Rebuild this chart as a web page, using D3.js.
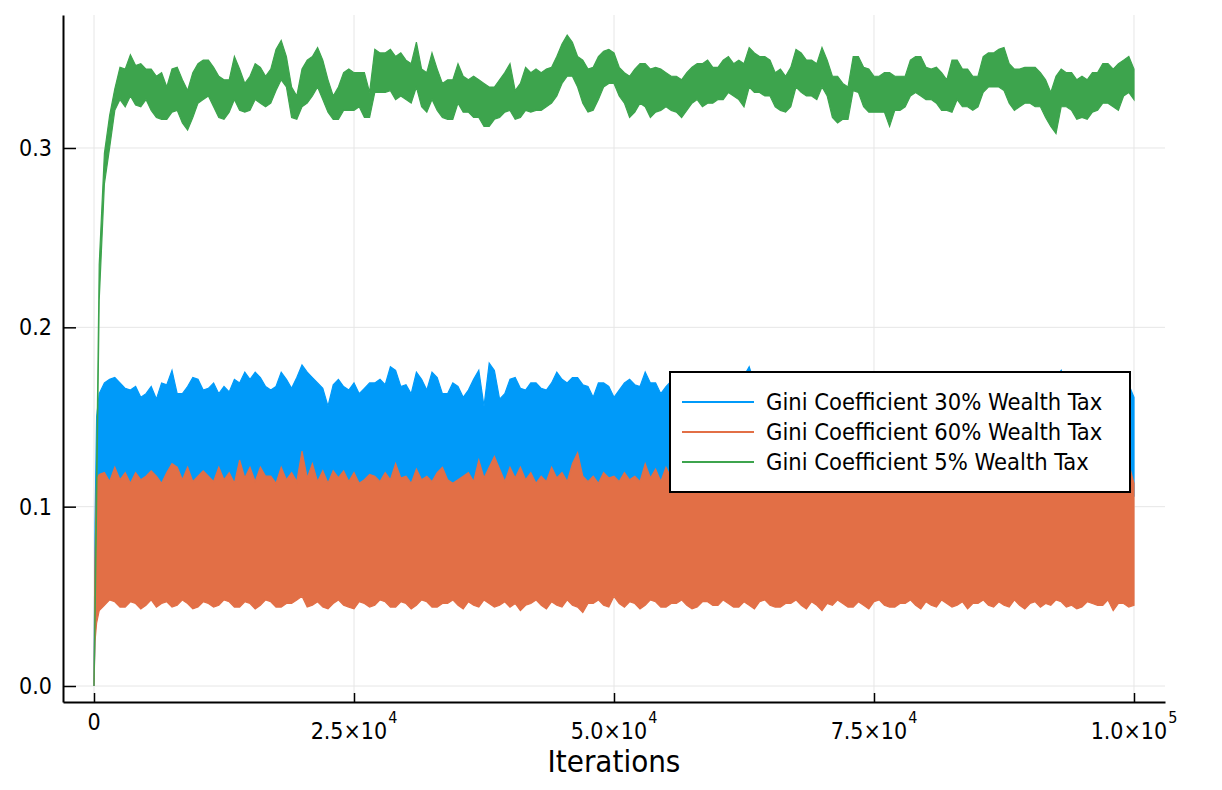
<!DOCTYPE html>
<html>
<head>
<meta charset="utf-8">
<script src="https://cdn.jsdelivr.net/npm/d3@7"></script>
<style>
  body { margin: 0; background: #fff; }
  text { font-family: "DejaVu Sans Condensed", "Liberation Sans", Arial, sans-serif; }
</style>
</head>
<body>
<div id="chart-area"></div>
<script>
var iters = [0, 100, 250, 500,
  1000, 1500, 2000, 2500, 3000, 3500, 4000, 4500, 5000, 5500, 6000, 6500, 7000, 7500, 8000, 8500, 9000, 9500, 10000, 10500,
  11000, 11500, 12000, 12500, 13000, 13500, 14000, 14500, 15000, 15500, 16000, 16500, 17000, 17500, 18000, 18500, 19000, 19500, 20000, 20500,
  21000, 21500, 22000, 22500, 23000, 23500, 24000, 24500, 25000, 25500, 26000, 26500, 27000, 27500, 28000, 28500, 29000, 29500, 30000, 30500,
  31000, 31500, 32000, 32500, 33000, 33500, 34000, 34500, 35000, 35500, 36000, 36500, 37000, 37500, 38000, 38500, 39000, 39500, 40000, 40500,
  41000, 41500, 42000, 42500, 43000, 43500, 44000, 44500, 45000, 45500, 46000, 46500, 47000, 47500, 48000, 48500, 49000, 49500, 50000, 50500,
  51000, 51500, 52000, 52500, 53000, 53500, 54000, 54500, 55000, 55500, 56000, 56500, 57000, 57500, 58000, 58500, 59000, 59500, 60000, 60500,
  61000, 61500, 62000, 62500, 63000, 63500, 64000, 64500, 65000, 65500, 66000, 66500, 67000, 67500, 68000, 68500, 69000, 69500, 70000, 70500,
  71000, 71500, 72000, 72500, 73000, 73500, 74000, 74500, 75000, 75500, 76000, 76500, 77000, 77500, 78000, 78500, 79000, 79500, 80000, 80500,
  81000, 81500, 82000, 82500, 83000, 83500, 84000, 84500, 85000, 85500, 86000, 86500, 87000, 87500, 88000, 88500, 89000, 89500, 90000, 90500,
  91000, 91500, 92000, 92500, 93000, 93500, 94000, 94500, 95000, 95500, 96000, 96500, 97000, 97500, 98000, 98500, 99000, 99500, 100000];

// each noisy series is kept as the upper / lower edge of its band
var tax30Hi = [0.003, 0.09, 0.15, 0.163,
  0.169, 0.171, 0.172, 0.169, 0.166, 0.165, 0.167, 0.161, 0.163, 0.167, 0.160, 0.169, 0.168, 0.176, 0.163, 0.163, 0.167, 0.172, 0.171, 0.165,
  0.166, 0.169, 0.163, 0.167, 0.164, 0.171, 0.169, 0.175, 0.171, 0.175, 0.172, 0.167, 0.165, 0.167, 0.175, 0.171, 0.166, 0.172, 0.179, 0.175,
  0.172, 0.169, 0.166, 0.156, 0.168, 0.171, 0.167, 0.165, 0.169, 0.163, 0.166, 0.169, 0.169, 0.171, 0.168, 0.178, 0.176, 0.167, 0.168, 0.163,
  0.175, 0.171, 0.165, 0.175, 0.172, 0.163, 0.163, 0.169, 0.167, 0.161, 0.165, 0.171, 0.176, 0.156, 0.180, 0.176, 0.160, 0.163, 0.171, 0.172,
  0.166, 0.165, 0.169, 0.169, 0.166, 0.165, 0.169, 0.175, 0.171, 0.169, 0.172, 0.172, 0.168, 0.167, 0.161, 0.169, 0.169, 0.167, 0.161, 0.165,
  0.169, 0.171, 0.168, 0.167, 0.175, 0.169, 0.169, 0.163, 0.167, 0.170, 0.168, 0.164, 0.165, 0.169, 0.170, 0.166, 0.166, 0.171, 0.169, 0.165,
  0.164, 0.168, 0.170, 0.173, 0.178, 0.169, 0.167, 0.171, 0.169, 0.164, 0.165, 0.170, 0.171, 0.166, 0.166, 0.169, 0.168, 0.172, 0.172, 0.166,
  0.165, 0.169, 0.169, 0.165, 0.167, 0.171, 0.170, 0.166, 0.164, 0.169, 0.168, 0.172, 0.171, 0.166, 0.166, 0.170, 0.169, 0.165, 0.165, 0.171,
  0.170, 0.166, 0.167, 0.169, 0.172, 0.166, 0.165, 0.170, 0.168, 0.172, 0.170, 0.165, 0.166, 0.169, 0.169, 0.171, 0.164, 0.168, 0.171, 0.166,
  0.167, 0.170, 0.169, 0.172, 0.176, 0.167, 0.166, 0.169, 0.170, 0.165, 0.165, 0.170, 0.169, 0.166, 0.167, 0.171, 0.170, 0.168, 0.161];
var tax30Lo = [0.0, 0.03, 0.05, 0.09,
  0.106, 0.104, 0.108, 0.105, 0.107, 0.104, 0.106, 0.108, 0.105, 0.104, 0.107, 0.105, 0.106, 0.104, 0.108, 0.105, 0.106, 0.104, 0.107, 0.105,
  0.106, 0.108, 0.104, 0.106, 0.105, 0.107, 0.104, 0.106, 0.105, 0.108, 0.104, 0.106, 0.107, 0.105, 0.104, 0.106, 0.108, 0.105, 0.106, 0.104,
  0.107, 0.105, 0.106, 0.104, 0.108, 0.105, 0.106, 0.107, 0.104, 0.106, 0.105, 0.108, 0.104, 0.106, 0.105, 0.107, 0.104, 0.106, 0.105, 0.108,
  0.104, 0.106, 0.107, 0.105, 0.104, 0.106, 0.108, 0.105, 0.106, 0.104, 0.107, 0.105, 0.106, 0.104, 0.108, 0.105, 0.106, 0.107, 0.104, 0.106,
  0.105, 0.108, 0.104, 0.106, 0.105, 0.107, 0.104, 0.106, 0.105, 0.108, 0.104, 0.106, 0.107, 0.105, 0.104, 0.106, 0.108, 0.105, 0.106, 0.107,
  0.106, 0.104, 0.108, 0.105, 0.107, 0.104, 0.106, 0.108, 0.105, 0.104, 0.107, 0.105, 0.106, 0.104, 0.108, 0.105, 0.106, 0.104, 0.107, 0.105,
  0.106, 0.108, 0.104, 0.106, 0.105, 0.107, 0.104, 0.106, 0.105, 0.108, 0.104, 0.106, 0.107, 0.105, 0.104, 0.106, 0.108, 0.105, 0.106, 0.104,
  0.107, 0.105, 0.106, 0.104, 0.108, 0.105, 0.106, 0.107, 0.104, 0.106, 0.105, 0.108, 0.104, 0.106, 0.105, 0.107, 0.104, 0.106, 0.105, 0.108,
  0.105, 0.107, 0.104, 0.106, 0.108, 0.105, 0.104, 0.106, 0.107, 0.105, 0.106, 0.104, 0.108, 0.105, 0.106, 0.107, 0.104, 0.106, 0.105, 0.108,
  0.104, 0.106, 0.107, 0.105, 0.104, 0.106, 0.108, 0.105, 0.106, 0.104, 0.107, 0.105, 0.106, 0.104, 0.108, 0.105, 0.106, 0.107, 0.106];

var tax60Hi = [0.002, 0.07, 0.115, 0.118,
  0.119, 0.114, 0.122, 0.115, 0.119, 0.113, 0.119, 0.115, 0.117, 0.120, 0.117, 0.113, 0.119, 0.124, 0.122, 0.115, 0.122, 0.114, 0.117, 0.120,
  0.117, 0.114, 0.122, 0.115, 0.119, 0.113, 0.126, 0.116, 0.122, 0.114, 0.122, 0.117, 0.117, 0.113, 0.122, 0.115, 0.119, 0.114, 0.131, 0.116,
  0.124, 0.114, 0.120, 0.113, 0.120, 0.116, 0.120, 0.114, 0.119, 0.113, 0.115, 0.118, 0.117, 0.114, 0.119, 0.115, 0.124, 0.116, 0.117, 0.113,
  0.121, 0.115, 0.117, 0.114, 0.119, 0.122, 0.115, 0.113, 0.115, 0.117, 0.119, 0.114, 0.126, 0.116, 0.122, 0.128, 0.121, 0.114, 0.122, 0.116,
  0.122, 0.115, 0.119, 0.113, 0.117, 0.114, 0.122, 0.116, 0.119, 0.114, 0.124, 0.130, 0.117, 0.114, 0.117, 0.113, 0.119, 0.116, 0.117, 0.114,
  0.119, 0.115, 0.117, 0.114, 0.124, 0.116, 0.121, 0.114, 0.122, 0.116, 0.118, 0.114, 0.121, 0.115, 0.116, 0.113, 0.120, 0.115, 0.119, 0.114,
  0.122, 0.115, 0.117, 0.113, 0.120, 0.115, 0.118, 0.114, 0.121, 0.116, 0.116, 0.113, 0.119, 0.115, 0.122, 0.114, 0.117, 0.113, 0.120, 0.115,
  0.118, 0.114, 0.121, 0.116, 0.116, 0.113, 0.119, 0.115, 0.123, 0.114, 0.117, 0.113, 0.120, 0.115, 0.118, 0.114, 0.121, 0.116, 0.116, 0.113,
  0.119, 0.115, 0.122, 0.114, 0.117, 0.113, 0.120, 0.115, 0.118, 0.114, 0.121, 0.116, 0.116, 0.113, 0.119, 0.115, 0.122, 0.114, 0.117, 0.113,
  0.120, 0.115, 0.118, 0.114, 0.121, 0.116, 0.116, 0.113, 0.119, 0.115, 0.122, 0.114, 0.117, 0.113, 0.120, 0.115, 0.122, 0.124, 0.113];
var tax60Lo = [0.0, 0.025, 0.035, 0.042,
  0.045, 0.048, 0.047, 0.044, 0.044, 0.047, 0.046, 0.043, 0.045, 0.048, 0.044, 0.046, 0.047, 0.044, 0.045, 0.048, 0.046, 0.043, 0.044, 0.047,
  0.046, 0.044, 0.045, 0.048, 0.047, 0.044, 0.044, 0.047, 0.046, 0.043, 0.045, 0.048, 0.047, 0.044, 0.044, 0.046, 0.046, 0.048, 0.050, 0.044,
  0.045, 0.047, 0.044, 0.043, 0.046, 0.048, 0.045, 0.044, 0.043, 0.047, 0.046, 0.044, 0.045, 0.048, 0.047, 0.044, 0.044, 0.047, 0.046, 0.043,
  0.045, 0.048, 0.047, 0.044, 0.044, 0.046, 0.046, 0.048, 0.045, 0.043, 0.047, 0.045, 0.044, 0.048, 0.046, 0.044, 0.045, 0.047, 0.044, 0.046,
  0.042, 0.045, 0.046, 0.048, 0.045, 0.043, 0.047, 0.045, 0.044, 0.048, 0.045, 0.044, 0.041, 0.046, 0.046, 0.048, 0.045, 0.044, 0.050, 0.046,
  0.044, 0.047, 0.046, 0.043, 0.045, 0.048, 0.047, 0.044, 0.044, 0.046, 0.046, 0.048, 0.045, 0.043, 0.044, 0.047, 0.047, 0.045, 0.045, 0.048,
  0.046, 0.044, 0.044, 0.047, 0.045, 0.043, 0.047, 0.048, 0.045, 0.044, 0.044, 0.046, 0.046, 0.048, 0.045, 0.043, 0.047, 0.045, 0.042, 0.046,
  0.045, 0.048, 0.046, 0.044, 0.044, 0.047, 0.045, 0.043, 0.047, 0.048, 0.045, 0.044, 0.044, 0.046, 0.046, 0.048, 0.045, 0.043, 0.047, 0.045,
  0.044, 0.048, 0.046, 0.044, 0.045, 0.047, 0.043, 0.046, 0.046, 0.048, 0.045, 0.044, 0.047, 0.045, 0.044, 0.048, 0.045, 0.043, 0.046, 0.047,
  0.044, 0.046, 0.045, 0.048, 0.047, 0.044, 0.045, 0.043, 0.044, 0.047, 0.046, 0.045, 0.045, 0.048, 0.042, 0.046, 0.046, 0.044, 0.045];

var tax5Hi = [0.002, 0.045, 0.12, 0.235,
  0.297, 0.318,
  0.333, 0.345, 0.344, 0.352, 0.346, 0.347, 0.344, 0.344, 0.340, 0.342, 0.334, 0.344, 0.345, 0.338, 0.332, 0.342, 0.347, 0.349,
  0.349, 0.345, 0.340, 0.338, 0.338, 0.351, 0.344, 0.336, 0.340, 0.347, 0.345, 0.340, 0.344, 0.355, 0.360, 0.351, 0.334, 0.329, 0.344, 0.349,
  0.351, 0.356, 0.349, 0.338, 0.329, 0.334, 0.342, 0.344, 0.342, 0.342, 0.342, 0.331, 0.355, 0.353, 0.353, 0.355, 0.351, 0.353, 0.349, 0.347,
  0.359, 0.344, 0.342, 0.353, 0.344, 0.336, 0.338, 0.338, 0.347, 0.340, 0.338, 0.340, 0.338, 0.336, 0.334, 0.334, 0.338, 0.342, 0.347, 0.332,
  0.336, 0.345, 0.342, 0.344, 0.342, 0.344, 0.345, 0.351, 0.358, 0.363, 0.359, 0.351, 0.349, 0.344, 0.345, 0.351, 0.354, 0.355, 0.353, 0.345,
  0.342, 0.340, 0.344, 0.347, 0.347, 0.344, 0.345, 0.344, 0.342, 0.340, 0.340, 0.338, 0.342, 0.345, 0.347, 0.347, 0.349, 0.345, 0.345, 0.349,
  0.351, 0.347, 0.349, 0.347, 0.356, 0.353, 0.351, 0.351, 0.349, 0.342, 0.344, 0.340, 0.345, 0.355, 0.353, 0.349, 0.349, 0.347, 0.356, 0.349,
  0.340, 0.340, 0.336, 0.334, 0.351, 0.351, 0.345, 0.344, 0.340, 0.340, 0.342, 0.342, 0.340, 0.340, 0.340, 0.349, 0.351, 0.351, 0.345, 0.344,
  0.345, 0.342, 0.338, 0.349, 0.349, 0.344, 0.344, 0.340, 0.340, 0.351, 0.353, 0.353, 0.355, 0.356, 0.347, 0.344, 0.344, 0.345, 0.345, 0.345,
  0.342, 0.338, 0.331, 0.340, 0.344, 0.342, 0.342, 0.338, 0.340, 0.338, 0.342, 0.342, 0.347, 0.347, 0.344, 0.347, 0.349, 0.351, 0.344];
var tax5Lo = [0.0, 0.035, 0.10, 0.215,
  0.280, 0.300,
  0.321, 0.327, 0.323, 0.329, 0.324, 0.323, 0.327, 0.321, 0.317, 0.316, 0.316, 0.320, 0.321, 0.314, 0.310, 0.317, 0.325, 0.327,
  0.329, 0.323, 0.317, 0.316, 0.320, 0.327, 0.321, 0.320, 0.321, 0.327, 0.325, 0.323, 0.325, 0.332, 0.338, 0.334, 0.317, 0.316, 0.323, 0.325,
  0.329, 0.334, 0.327, 0.320, 0.316, 0.316, 0.321, 0.321, 0.321, 0.323, 0.317, 0.317, 0.331, 0.331, 0.331, 0.332, 0.327, 0.329, 0.327, 0.325,
  0.334, 0.323, 0.320, 0.327, 0.321, 0.317, 0.316, 0.316, 0.325, 0.320, 0.320, 0.317, 0.317, 0.312, 0.312, 0.316, 0.317, 0.320, 0.321, 0.316,
  0.317, 0.321, 0.320, 0.321, 0.321, 0.323, 0.325, 0.329, 0.336, 0.340, 0.340, 0.334, 0.325, 0.320, 0.321, 0.327, 0.334, 0.336, 0.336, 0.329,
  0.325, 0.317, 0.320, 0.325, 0.323, 0.317, 0.320, 0.321, 0.323, 0.321, 0.320, 0.317, 0.321, 0.325, 0.327, 0.323, 0.325, 0.325, 0.327, 0.327,
  0.331, 0.329, 0.327, 0.323, 0.334, 0.331, 0.331, 0.329, 0.329, 0.323, 0.321, 0.320, 0.323, 0.334, 0.331, 0.329, 0.329, 0.327, 0.334, 0.329,
  0.317, 0.314, 0.316, 0.316, 0.332, 0.331, 0.323, 0.320, 0.320, 0.320, 0.320, 0.312, 0.321, 0.321, 0.323, 0.329, 0.331, 0.329, 0.327, 0.327,
  0.325, 0.321, 0.321, 0.320, 0.327, 0.323, 0.323, 0.321, 0.323, 0.331, 0.334, 0.334, 0.334, 0.332, 0.325, 0.321, 0.323, 0.325, 0.325, 0.323,
  0.323, 0.317, 0.312, 0.308, 0.323, 0.323, 0.321, 0.316, 0.317, 0.316, 0.320, 0.321, 0.325, 0.325, 0.323, 0.321, 0.329, 0.331, 0.327];

var seriesNames = ["Gini Coefficient 30% Wealth Tax", "Gini Coefficient 60% Wealth Tax", "Gini Coefficient 5% Wealth Tax"];
var seriesColors = ["#009af9", "#e26f46", "#3da44d"];

var xTicks = [0, 25000, 50000, 75000, 100000];
var xTickMant = ["0", "2.5×10", "5.0×10", "7.5×10", "1.0×10"];
var xTickExp = ["", "4", "4", "4", "5"];
var yTicks = [0.0, 0.1, 0.2, 0.3];

var width = 1222, height = 790;
var plotLeft = 63, plotRight = 1165, plotTop = 15, plotBottom = 702;

const svg = d3.select("#chart-area")
    .append('svg')
    .attr('width', width)
    .attr('height', height);

const xScale = d3.scaleLinear()
    .domain([-2981, 102981])
    .range([plotLeft, plotRight]);

const yScale = d3.scaleLinear()
    .domain([-0.00892, 0.37416])
    .range([plotBottom, plotTop]);

// grid
svg.append('g').selectAll('line')
    .data(xTicks)
    .enter()
    .append('line')
    .attr('x1', function(d) { return xScale(d); })
    .attr('x2', function(d) { return xScale(d); })
    .attr('y1', plotTop)
    .attr('y2', plotBottom)
    .attr('stroke', '#e6e6e6')
    .attr('stroke-width', 1);

svg.append('g').selectAll('line')
    .data(yTicks)
    .enter()
    .append('line')
    .attr('x1', plotLeft)
    .attr('x2', plotRight)
    .attr('y1', function(d) { return yScale(d); })
    .attr('y2', function(d) { return yScale(d); })
    .attr('stroke', '#e6e6e6')
    .attr('stroke-width', 1);

// series bands
var bands = [[tax30Lo, tax30Hi], [tax60Lo, tax60Hi], [tax5Lo, tax5Hi]];

var area = function(lo, hi) {
    return d3.area()
        .x(function(i) { return xScale(iters[i]); })
        .y0(function(i) { return yScale(lo[i]); })
        .y1(function(i) { return yScale(hi[i]); });
};

bands.forEach(function(b, s) {
    svg.append('path')
        .datum(d3.range(iters.length))
        .attr('d', area(b[0], b[1]))
        .attr('fill', seriesColors[s])
        .attr('stroke', seriesColors[s])
        .attr('stroke-width', 1.2)
        .attr('stroke-linejoin', 'miter');
});

// axes
const xAxisCall = d3.axisBottom(xScale)
    .tickValues(xTicks)
    .tickSizeInner(-9)
    .tickSizeOuter(0)
    .tickFormat('');

const xAxis = svg.append('g')
    .attr('transform', 'translate(0, ' + plotBottom + ')')
    .call(xAxisCall);

const yAxisCall = d3.axisLeft(yScale)
    .tickValues(yTicks)
    .tickSizeInner(-13)
    .tickSizeOuter(0)
    .tickPadding(11)
    .tickFormat(d3.format('.1f'));

const yAxis = svg.append('g')
    .attr('transform', 'translate(' + plotLeft + ', 0)')
    .call(yAxisCall);

[xAxis, yAxis].forEach(function(ax) {
    ax.select('.domain').attr('stroke', '#000').attr('stroke-width', 2);
    ax.selectAll('.tick line').attr('stroke', '#000').attr('stroke-width', 1.5);
});

yAxis.selectAll('text')
    .attr('font-size', '23px')
    .attr('fill', '#000')
    .attr('font-family', null);

// x tick labels with superscript exponents
xTicks.forEach(function(t, i) {
    var label = svg.append('text')
        .attr('x', xScale(t))
        .attr('y', xTickExp[i] ? 739 : 730)
        .attr('text-anchor', 'middle')
        .attr('font-size', '23px')
        .attr('fill', '#000');
    label.append('tspan').text(xTickMant[i]);
    if (xTickExp[i]) {
        label.append('tspan')
            .attr('dy', -16)
            .attr('dx', 1)
            .attr('font-size', '16px')
            .text(xTickExp[i]);
    }
});

svg.append('text')
    .text('Iterations')
    .attr('x', (plotLeft + plotRight) / 2)
    .attr('y', 772)
    .attr('text-anchor', 'middle')
    .attr('font-size', '31px')
    .attr('fill', '#000');

// legend
const legend = svg.append('g')
    .attr('transform', 'translate(670, 372)');

legend.append('rect')
    .attr('width', 460)
    .attr('height', 120)
    .attr('fill', '#fff')
    .attr('stroke', '#000')
    .attr('stroke-width', 2);

seriesNames.forEach(function(name, i) {
    legend.append('line')
        .attr('x1', 12)
        .attr('x2', 84)
        .attr('y1', 30 + i * 30)
        .attr('y2', 30 + i * 30)
        .attr('stroke', seriesColors[i])
        .attr('stroke-width', 2);
    legend.append('text')
        .text(name)
        .attr('x', 96)
        .attr('y', 30 + i * 30)
        .attr('dy', '0.35em')
        .attr('font-size', '23.5px')
        .attr('fill', '#000');
});
</script>
</body>
</html>
